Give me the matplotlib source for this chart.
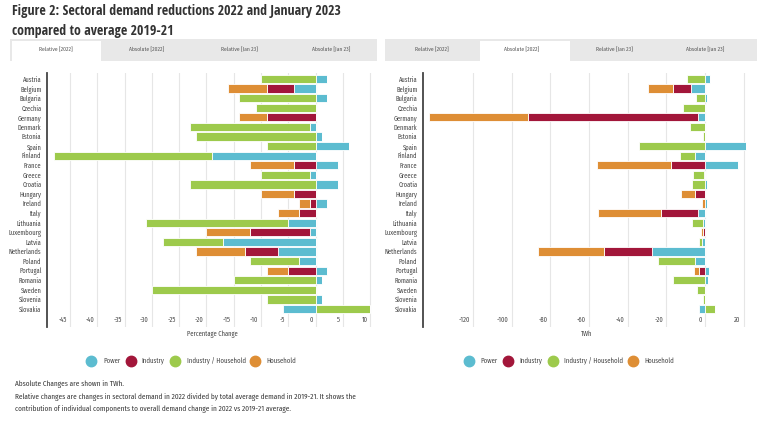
import matplotlib
matplotlib.use('Agg')
import matplotlib.pyplot as plt
from matplotlib.patches import Rectangle
from matplotlib.transforms import ScaledTranslation

countries = ["Austria", "Belgium", "Bulgaria", "Czechia", "Germany", "Denmark", "Estonia",
             "Spain", "Finland", "France", "Greece", "Croatia", "Hungary", "Ireland", "Italy",
             "Lithuania", "Luxembourg", "Latvia", "Netherlands", "Poland", "Portugal",
             "Romania", "Sweden", "Slovenia", "Slovakia"]

series_names = ["Power", "Industry", "Industry / Household", "Household"]

rel_power = [2.0, -3.9, 2.0, 0, 0, -1.0, 1.1, 6.1, -19.0, 4.0, -1.0, 4.0, 0, 2.0, 0,
             -5.0, -1.0, -17.0, -7.0, -3.0, 2.0, 1.1, 0, 1.1, -6.0]
rel_industry = [0, -5.1, 0, 0, -9.0, 0, 0, 0, 0, -4.0, 0, 0, -4.0, -1.0, -3.0,
                0, -11.0, 0, -6.0, 0, -5.0, 0, 0, 0, 0]
rel_indhh = [-10.0, 0, -14.0, -11.0, 0, -22.0, -22.0, -9.0, -29.0, 0, -9.0, -23.0, 0, 0, 0,
             -26.0, 0, -11.0, 0, -9.0, 0, -15.0, -30.0, -9.0, 10.0]
rel_household = [0, -7.0, 0, 0, -5.1, 0, 0, 0, 0, -8.0, 0, 0, -6.0, -2.0, -4.0,
                 0, -8.0, 0, -9.0, 0, -4.0, 0, 0, 0, 0]

abs_power = [2.5, -7.4, 1.0, 0, -3.8, 0, 0, 21.2, -5.0, 16.9, -0.5, 1.2, 0, 1.2, -3.8,
             -0.9, 0, -1.7, -27.6, -5.2, 1.9, 1.5, 0, 0, -2.9]
abs_industry = [0, -9.3, 0, 0, -88.0, 0, 0, 0, 0, -17.6, 0, 0, -5.3, 0, -19.0,
                0, -1.2, 0, -24.7, 0, -3.1, 0, 0, 0, 0]
abs_indhh = [-9.5, 0, -4.7, -11.5, 0, -7.8, -1.2, -34.0, -7.9, 0, -5.5, -6.9, 0, 0, 0,
             -6.0, 0, -1.4, 0, -19.0, 0, -16.7, -4.3, -1.2, 5.0]
abs_household = [0, -12.9, 0, 0, -51.2, 0, 0, 0, 0, -38.3, 0, 0, -7.1, -1.5, -32.4,
                 0, -0.9, 0, -34.1, 0, -2.6, 0, 0, 0, 0]

rel_ticks = [-45, -40, -35, -30, -25, -20, -15, -10, -5, 0, 5, 10]
abs_ticks = [-120, -100, -80, -60, -40, -20, 0, 20]
tab_labels = ["Relative [2022]", "Absolute [2022]", "Relative [Jan 23]", "Absolute [Jan 23]"]

colors = ["#5cbcd0", "#a2163a", "#9dca4c", "#de8e35"]
FONT = ["Fira Sans Condensed", "DejaVu Sans"]
TFONT = ["Open Sans Condensed", "Open Sans", "DejaVu Sans"]
TXT = "#444444"
FS = 4.7

W, H = 758, 421
fig = plt.figure(figsize=(W / 100, H / 100), dpi=100)


def fx(x):
    return x / W


def fy(y):
    return 1 - y / H


def draw_chart(x0, x1, xlim, ticks, data, xlabel, label_x):
    top, bottom = 73, 327
    ax = fig.add_axes([fx(x0), fy(bottom), fx(x1) - fx(x0), fy(top) - fy(bottom)])
    n = len(countries)
    ys = list(range(n))
    neg = [0.0] * n
    pos = [0.0] * n
    for vals, c in zip(data, colors):
        lefts = []
        for i, v in enumerate(vals):
            if v < 0:
                lefts.append(neg[i])
                neg[i] += v
            else:
                lefts.append(pos[i])
                pos[i] += v
        ax.barh(ys, vals, left=lefts, height=0.86, color=c, edgecolor="white",
                linewidth=0.6, zorder=3)
    rows_px = 9.58
    ax.set_ylim(24 + (bottom - 309) / rows_px, -(79 - top) / rows_px)
    ax.set_xlim(*xlim)
    ax.set_yticks(ys)
    ax.set_yticklabels(countries, fontsize=FS, color=TXT, family=FONT)
    ax.tick_params(axis='y', length=0, pad=4)
    ax.set_xticks(ticks)
    ax.set_xticklabels([str(t) for t in ticks], fontsize=FS, color=TXT, family=FONT)
    ax.tick_params(axis='x', length=0, pad=-7.5)
    off = ScaledTranslation(-3 / 100, 0, fig.dpi_scale_trans)
    for lab in ax.get_xticklabels():
        lab.set_horizontalalignment('right')
        lab.set_transform(lab.get_transform() + off)
    ax.grid(axis='x', color="#e6e6e6", linewidth=0.8, zorder=0)
    for s in ["top", "right", "bottom"]:
        ax.spines[s].set_visible(False)
    ax.spines["left"].set_color("#444444")
    ax.spines["left"].set_linewidth(1.3)
    ax.set_axisbelow(True)
    fig.text(fx(label_x), fy(334), xlabel, fontsize=FS, color=TXT, family=FONT,
             ha="center", va="center")
    return ax


draw_chart(47, 372, (-49.2, 10.3), rel_ticks,
           [rel_power, rel_industry, rel_indhh, rel_household], "Percentage Change", 212)
draw_chart(423, 748, (-146, 22.3), abs_ticks,
           [abs_power, abs_industry, abs_indhh, abs_household], "TWh", 587)

# title
fig.text(fx(12), fy(11), "Figure 2: Sectoral demand reductions 2022 and January 2023",
         fontsize=10, fontweight="bold", color="#333333", family=TFONT, va="center")
fig.text(fx(12), fy(31), "compared to average 2019-21",
         fontsize=10, fontweight="bold", color="#333333", family=TFONT, va="center")

# tabs
for (cx0, cx1, active, centers) in [(10, 377, 0, [56, 147, 239, 331]),
                                     (385, 757, 1, [432, 522, 614, 705])]:
    fig.add_artist(Rectangle((fx(cx0), fy(61)), fx(cx1) - fx(cx0), fy(39) - fy(61),
                             transform=fig.transFigure, facecolor="#e8e8e8",
                             edgecolor="none"))
    tw = (cx1 - cx0) / 4
    ax0 = cx0 + 2 + active * tw
    fig.add_artist(Rectangle((fx(ax0), fy(62)), fx(tw - 3), fy(41) - fy(62),
                             transform=fig.transFigure, facecolor="white",
                             edgecolor="none"))
    for lab, c in zip(tab_labels, centers):
        fig.text(fx(c), fy(50), lab, fontsize=4.0, color="#555555", family=FONT,
                 ha="center", va="center")

# legends
for circ_x, text_x in [([91, 131, 175, 255], [103, 141, 187, 266]),
                       ([469, 508, 553, 633], [480, 519, 564, 644])]:
    for name, c, cx, tx in zip(series_names, colors, circ_x, text_x):
        fig.lines.append(plt.Line2D([fx(cx)], [fy(361)], marker="o", markersize=7.5,
                                    color=c, linestyle="none",
                                    transform=fig.transFigure, figure=fig))
        fig.text(fx(tx), fy(361), name, fontsize=4.8, color=TXT, family=FONT,
                 ha="left", va="center")

notes = ["Absolute Changes are shown in TWh.",
         "Relative changes are changes in sectoral demand in 2022 divided by total average demand in 2019-21. It shows the",
         "contribution of individual components to overall demand change in 2022 vs 2019-21 average."]
for t, yy in zip(notes, [384, 397, 409]):
    fig.text(fx(15), fy(yy), t, fontsize=5.2, color="#333333", family=FONT,
             ha="left", va="center")

fig.savefig("out.png", dpi=100)
